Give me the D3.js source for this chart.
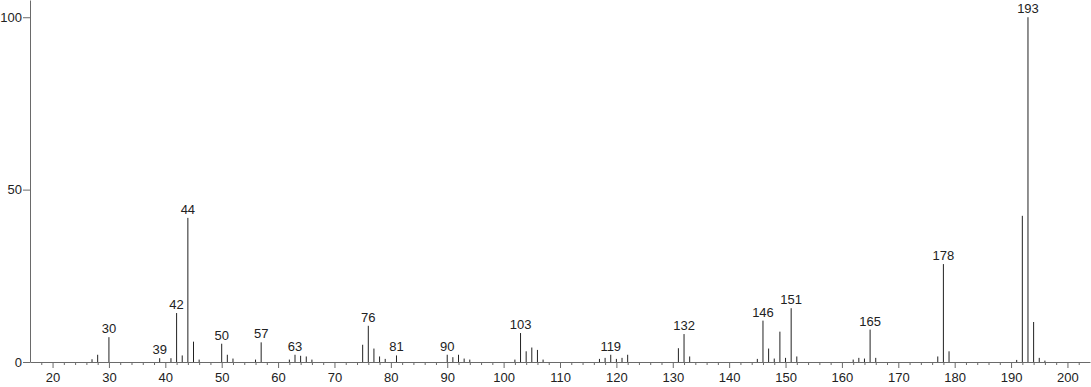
<!DOCTYPE html>
<html>
  <head>
    <meta charset="utf-8">
    <title>Mass spectrum</title>
    <script src="https://d3js.org/d3.v7.min.js"></script>
    <style>
      body { margin: 0; background: #fff; }
      #chart { display: block; font-family: "Liberation Sans", Arial, sans-serif; }
      .axis path, .axis line { stroke: #6a6a6a; }
      .axis text { fill: #222; font-size: 13px; font-family: "Liberation Sans", Arial, sans-serif; }
      .peak { stroke: #222; stroke-width: 1; }
      .peakLabel { fill: #222; font-size: 13px; text-anchor: middle; }
    </style>
  </head>
  <body>
    <svg id="chart" width="1091" height="387">
      <g id="peakGroup"></g>
      <g id="xAxisMinor" class="axis"></g>
      <g id="xAxisMajor" class="axis"></g>
      <g id="yAxis" class="axis"></g>
      <g id="labelGroup"></g>
    </svg>
    <script>
      // m/z values and relative intensities
      masses = [27, 28, 30, 39, 41, 42, 43, 44, 45, 46, 50, 51, 52, 56, 57,
        62, 63, 64, 65, 66, 75, 76, 77, 78, 79, 81, 90, 91, 92, 93, 94,
        102, 103, 104, 105, 106, 107, 117, 118, 119, 120, 121, 122,
        131, 132, 133, 145, 146, 147, 148, 149, 150, 151, 152,
        162, 163, 164, 165, 166, 177, 178, 179, 191, 192, 193, 194, 195, 196];
      intensities = [0.8, 2.1, 7.2, 1.1, 1.1, 14.2, 1.9, 41.8, 5.9, 0.7, 5.3, 2.1, 1.0, 0.7, 5.7,
        0.7, 2.1, 1.8, 1.6, 0.7, 5.0, 10.5, 3.9, 1.6, 0.9, 1.9, 2.1, 1.4, 2.1, 1.0, 0.7,
        0.7, 8.4, 3.1, 4.2, 3.5, 0.7, 0.9, 1.2, 2.1, 0.9, 1.2, 2.1,
        4.0, 8.1, 1.6, 0.9, 12.0, 3.9, 1.0, 8.8, 1.2, 15.6, 1.6,
        0.7, 1.2, 1.0, 9.4, 1.2, 1.6, 28.4, 3.1, 0.6, 42.4, 100, 11.6, 1.2, 0.4];
      labelled = [30, 39, 42, 44, 50, 57, 63, 76, 81, 90, 103, 119, 132, 146, 151, 165, 178, 193];
      xMajorTicks = d3.range(20, 201, 10);
      xMinorTicks = d3.range(18, 204, 2).filter(function(d) { return d % 10 != 0; });
      yTicks = [0, 50, 100];

      peaks = masses.map(function(m, i) {
        return { mass: m, value: intensities[i] };
      });

      width = 1091;
      height = 387;
      margin = { top: 0, right: 1, bottom: 25, left: 30 };

      x = d3.scaleLinear()
        .domain([16, 204])
        .range([margin.left, width - margin.right]);
      y = d3.scaleLinear()
        .domain([0, 105])
        .range([height - margin.bottom, margin.top]);

      // axes
      d3.select("#xAxisMinor")
        .attr("transform", "translate(0, " + y(0) + ")")
        .call(d3.axisBottom(x)
          .tickValues(xMinorTicks)
          .tickSize(3)
          .tickSizeOuter(0)
          .tickFormat(""));
      d3.select("#xAxisMajor")
        .attr("transform", "translate(0, " + y(0) + ")")
        .call(d3.axisBottom(x)
          .tickValues(xMajorTicks)
          .tickSize(6)
          .tickSizeOuter(0)
          .tickPadding(5));
      d3.select("#xAxisMajor path").remove();
      d3.select("#yAxis")
        .attr("transform", "translate(" + margin.left + ", 0)")
        .call(d3.axisLeft(y)
          .tickValues(yTicks)
          .tickSize(7)
          .tickSizeOuter(0)
          .tickPadding(1));

      // peaks
      d3.select("#peakGroup").selectAll("line")
        .data(peaks)
        .enter()
        .append("line")
          .attr("class", "peak")
          .attr("x1", function(d) { return x(d.mass); })
          .attr("x2", function(d) { return x(d.mass); })
          .attr("y1", y(0))
          .attr("y2", function(d) { return y(d.value); });

      // peak labels
      d3.select("#labelGroup").selectAll("text")
        .data(peaks.filter(function(d) { return labelled.indexOf(d.mass) > -1; }))
        .enter()
        .append("text")
          .attr("class", "peakLabel")
          .attr("x", function(d) { return x(d.mass); })
          .attr("y", function(d) { return y(d.value) - 4; })
          .text(function(d) { return d.mass; });
    </script>
  </body>
</html>
